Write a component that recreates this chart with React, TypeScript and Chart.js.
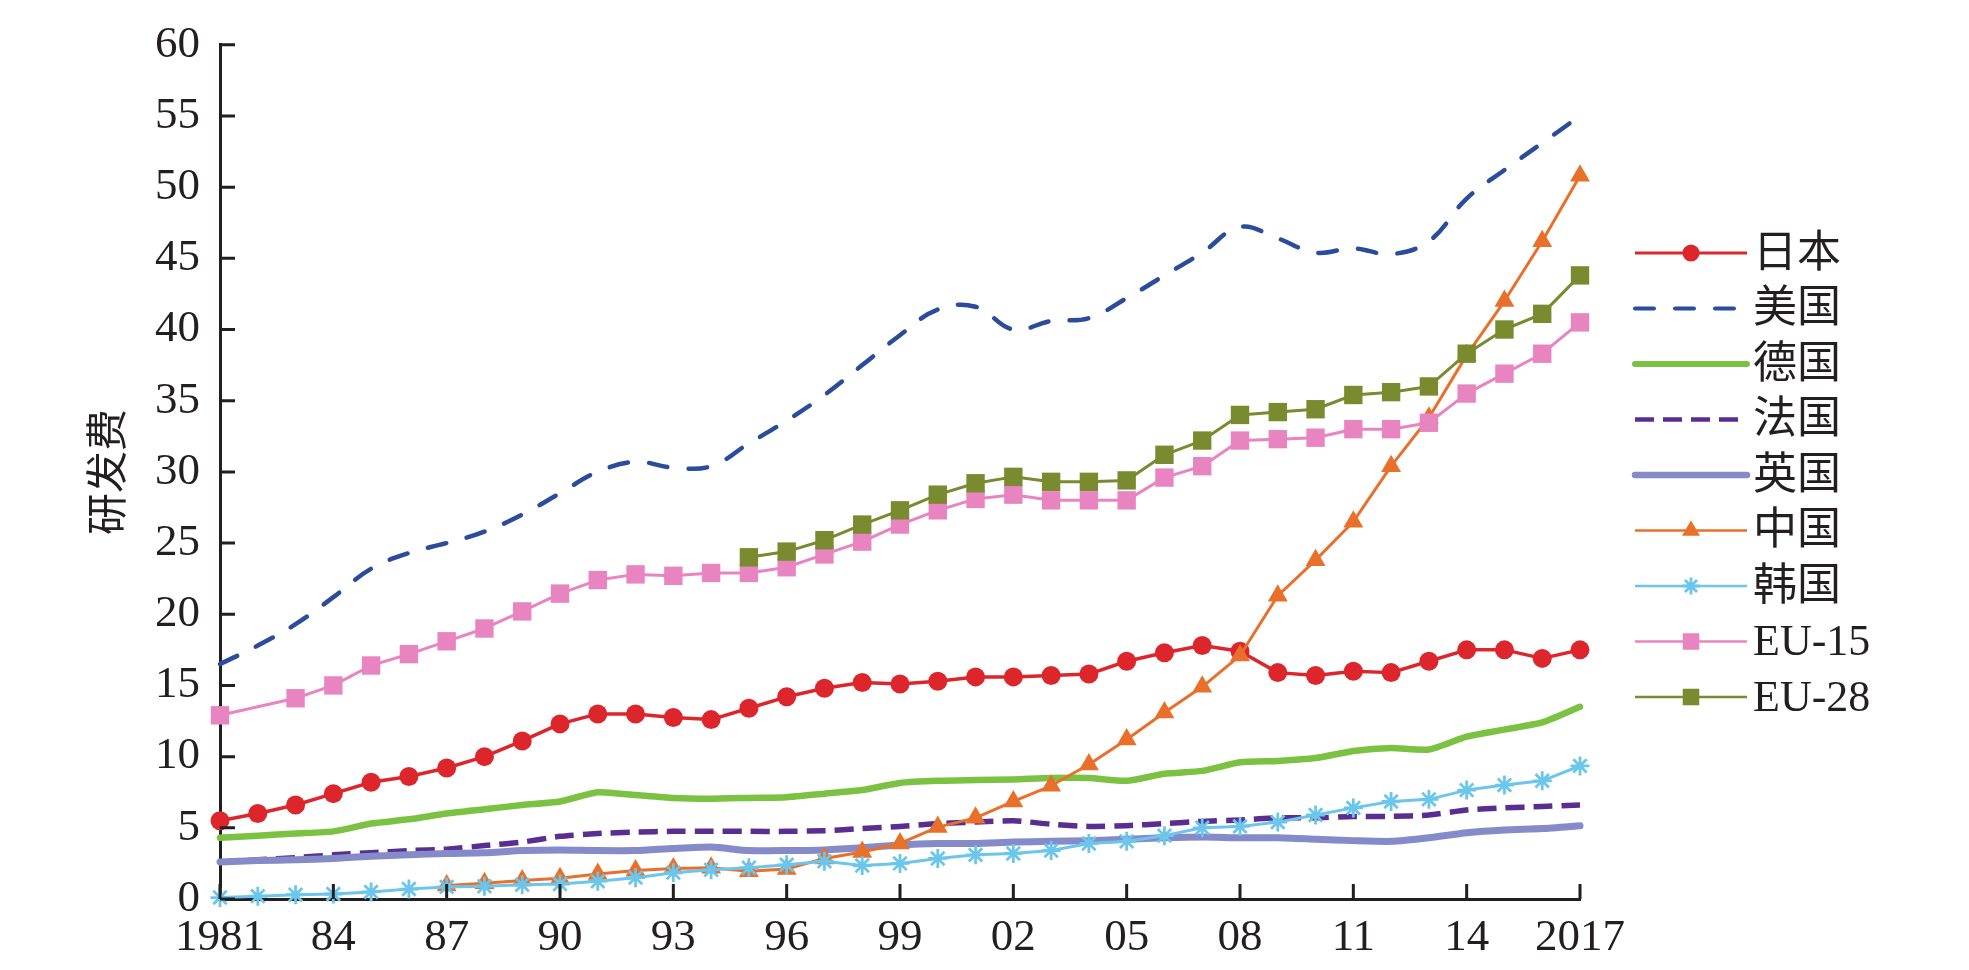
import { useEffect, useRef } from "react"
import { Chart, registerables } from "chart.js"

Chart.register(...registerables)

// 年份（1981–2017）
const years = [
    1981, 1982, 1983, 1984, 1985, 1986, 1987, 1988, 1989, 1990,
    1991, 1992, 1993, 1994, 1995, 1996, 1997, 1998, 1999, 2000,
    2001, 2002, 2003, 2004, 2005, 2006, 2007, 2008, 2009, 2010,
    2011, 2012, 2013, 2014, 2015, 2016, 2017,
]

const yTicks = [0, 5, 10, 15, 20, 25, 30, 35, 40, 45, 50, 55, 60]

const japan = [
    5.5, 6.0, 6.6, 7.4, 8.2, 8.6, 9.2, 10.0, 11.1, 12.3,
    13.0, 13.0, 12.75, 12.6, 13.4, 14.2, 14.8, 15.2, 15.1, 15.3,
    15.6, 15.6, 15.7, 15.8, 16.7, 17.3, 17.8, 17.4, 15.9, 15.7,
    16.0, 15.9, 16.7, 17.5, 17.5, 16.9, 17.5,
]
const usa = [
    16.5, 17.8, 19.3, 21.2, 23.2, 24.3, 25.0, 25.8, 27.0, 28.5,
    30.0, 30.7, 30.3, 30.4, 32.0, 33.6, 35.4, 37.5, 39.6, 41.4,
    41.6, 40.0, 40.6, 40.8, 42.2, 43.8, 45.4, 47.2, 46.4, 45.4,
    45.7, 45.3, 46.2, 49.2, 51.2, 53.1, 55.0,
]
const germany = [
    4.3, 4.45, 4.6, 4.75, 5.3, 5.6, 6.0, 6.3, 6.6, 6.85,
    7.5, 7.3, 7.1, 7.05, 7.1, 7.15, 7.4, 7.65, 8.15, 8.3,
    8.35, 8.4, 8.5, 8.5, 8.3, 8.8, 9.0, 9.6, 9.7, 9.9,
    10.4, 10.6, 10.5, 11.4, 11.9, 12.4, 13.5,
]
const france = [
    2.6, 2.75, 2.9, 3.1, 3.25, 3.4, 3.5, 3.75, 4.0, 4.4,
    4.6, 4.7, 4.75, 4.75, 4.75, 4.75, 4.8, 4.95, 5.1, 5.3,
    5.4, 5.5, 5.25, 5.1, 5.15, 5.3, 5.45, 5.55, 5.7, 5.7,
    5.8, 5.8, 5.9, 6.25, 6.4, 6.5, 6.6,
]
const uk = [
    2.6, 2.7, 2.75, 2.85, 3.0, 3.1, 3.2, 3.25, 3.4, 3.45,
    3.4, 3.4, 3.55, 3.65, 3.4, 3.4, 3.45, 3.6, 3.8, 3.9,
    3.9, 4.0, 4.05, 4.1, 4.2, 4.3, 4.35, 4.3, 4.3, 4.2,
    4.1, 4.05, 4.3, 4.65, 4.85, 4.95, 5.15,
]
const china = [
    null, null, null, null, null, null, 0.95, 1.1, 1.3, 1.45,
    1.75, 2.0, 2.15, 2.2, 1.95, 2.1, 2.85, 3.3, 3.9, 5.05,
    5.7, 6.85, 7.95, 9.45, 11.2, 13.1, 14.9, 17.1, 21.3, 23.8,
    26.5, 30.4, 33.8, 38.2, 42.0, 46.2, 50.8,
]
const korea = [
    0.1, 0.2, 0.3, 0.35, 0.5, 0.7, 0.85, 0.9, 1.0, 1.05,
    1.25, 1.5, 1.85, 2.05, 2.2, 2.4, 2.65, 2.35, 2.5, 2.85,
    3.1, 3.2, 3.4, 3.9, 4.05, 4.45, 5.0, 5.1, 5.4, 5.9,
    6.4, 6.85, 7.0, 7.65, 8.0, 8.3, 9.35,
]
const eu15 = [
    12.9, null, 14.1, 15.0, 16.4, 17.2, 18.1, 19.0, 20.2, 21.45,
    22.4, 22.8, 22.7, 22.9, 22.9, 23.3, 24.2, 25.1, 26.3, 27.3,
    28.1, 28.4, 28.0, 28.0, 28.0, 29.6, 30.4, 32.2, 32.3, 32.4,
    33.0, 33.0, 33.45, 35.5, 36.9, 38.3, 40.5,
]
const eu28 = [
    null, null, null, null, null, null, null, null, null, null,
    null, null, null, null, 24.0, 24.4, 25.2, 26.3, 27.3, 28.4,
    29.2, 29.65, 29.3, 29.3, 29.4, 31.2, 32.2, 34.0, 34.2, 34.4,
    35.4, 35.6, 36.0, 38.3, 40.0, 41.1, 43.8,
]

const FONT = '"Liberation Serif", "Times New Roman", "Noto Sans CJK SC", serif'
const INK = "#231f20"

type Marker = "circle" | "triangle" | "rect" | "star" | null

interface Series {
    label: string
    values: (number | null)[]
    color: string
    width: number
    legendWidth: number
    dash: number[]
    cap: CanvasLineCap
    marker: Marker
    radius: number
    tension: number
}

const series: Series[] = [
    { label: "日本", values: japan, color: "#dc262c", width: 3.5, legendWidth: 3, dash: [], cap: "butt", marker: "circle", radius: 9.5, tension: 0 },
    { label: "美国", values: usa, color: "#2b4c9c", width: 4.5, legendWidth: 4, dash: [19, 21], cap: "round", marker: null, radius: 0, tension: 0.4 },
    { label: "德国", values: germany, color: "#7cc242", width: 6.5, legendWidth: 6, dash: [], cap: "round", marker: null, radius: 0, tension: 0.2 },
    { label: "法国", values: france, color: "#5a2e91", width: 5.5, legendWidth: 4.5, dash: [19, 9], cap: "butt", marker: null, radius: 0, tension: 0.2 },
    { label: "英国", values: uk, color: "#858ac9", width: 7, legendWidth: 6.5, dash: [], cap: "round", marker: null, radius: 0, tension: 0.2 },
    { label: "中国", values: china, color: "#e8702a", width: 3, legendWidth: 2.7, dash: [], cap: "butt", marker: "triangle", radius: 11.5, tension: 0 },
    { label: "韩国", values: korea, color: "#6cc6ec", width: 3, legendWidth: 2.7, dash: [], cap: "butt", marker: "star", radius: 9.5, tension: 0 },
    { label: "EU-15", values: eu15, color: "#e884c0", width: 3, legendWidth: 2.7, dash: [], cap: "butt", marker: "rect", radius: 13, tension: 0 },
    { label: "EU-28", values: eu28, color: "#7a8a2e", width: 3, legendWidth: 2.7, dash: [], cap: "butt", marker: "rect", radius: 13, tension: 0 },
]

function drawMarker(ctx: CanvasRenderingContext2D, m: Marker, x: number, y: number, r: number, color: string) {
    ctx.save()
    ctx.fillStyle = color
    ctx.strokeStyle = color
    ctx.setLineDash([])
    if (m === "circle") {
        ctx.beginPath()
        ctx.arc(x, y, r, 0, Math.PI * 2)
        ctx.fill()
    } else if (m === "triangle") {
        ctx.beginPath()
        for (let k = 0; k < 3; k++) {
            const a = -Math.PI / 2 + k * (2 * Math.PI / 3)
            const px = x + Math.cos(a) * r
            const py = y + Math.sin(a) * r
            if (k === 0) ctx.moveTo(px, py)
            else ctx.lineTo(px, py)
        }
        ctx.closePath()
        ctx.fill()
    } else if (m === "rect") {
        const s = r * Math.SQRT1_2
        ctx.fillRect(x - s, y - s, 2 * s, 2 * s)
    } else if (m === "star") {
        ctx.lineWidth = 2.8
        ctx.beginPath()
        for (let k = 0; k < 4; k++) {
            const a = k * Math.PI / 4
            ctx.moveTo(x - Math.cos(a) * r, y - Math.sin(a) * r)
            ctx.lineTo(x + Math.cos(a) * r, y + Math.sin(a) * r)
        }
        ctx.stroke()
    }
    ctx.restore()
}

// 内侧刻度线、右侧图例
const decorPlugin = {
    id: "decor",
    afterDraw(chart: Chart) {
        const { ctx, chartArea, scales } = chart
        const xs = scales.x
        const ys = scales.y
        ctx.save()
        ctx.strokeStyle = INK
        ctx.lineWidth = 3
        ctx.beginPath()
        yTicks.forEach(v => {
            const py = ys.getPixelForValue(v)
            ctx.moveTo(chartArea.left, py)
            ctx.lineTo(chartArea.left + 15, py)
        })
        years.forEach((yr, i) => {
            if ((yr - 1981) % 3 !== 0) return
            const px = xs.getPixelForValue(i)
            ctx.moveTo(px, chartArea.bottom)
            ctx.lineTo(px, chartArea.bottom - 15)
        })
        ctx.stroke()

        const x0 = chartArea.right + 55
        const x1 = x0 + 112
        series.forEach((s, i) => {
            const y = 253 + i * 55.5
            ctx.save()
            ctx.strokeStyle = s.color
            ctx.lineWidth = s.legendWidth
            ctx.lineCap = s.cap
            ctx.setLineDash(s.dash)
            ctx.beginPath()
            ctx.moveTo(x0, y)
            ctx.lineTo(x1, y)
            ctx.stroke()
            ctx.restore()
            if (s.marker) drawMarker(ctx, s.marker, (x0 + x1) / 2, y, s.radius * 0.9, s.color)
            ctx.fillStyle = INK
            ctx.font = `44px ${FONT}`
            ctx.textAlign = "left"
            ctx.textBaseline = "middle"
            ctx.fillText(s.label, x1 + 6, y + 2)
        })
        ctx.restore()
    },
}

export default function App() {
    const canvasRef = useRef<HTMLCanvasElement>(null)
    const chartRef = useRef<Chart>()

    useEffect(() => {
        document.body.style.margin = "0"
        if (!canvasRef.current) return
        if (chartRef.current) chartRef.current.destroy()

        const datasets = series.map((s, i) => ({
            label: s.label,
            data: s.values,
            borderColor: s.color,
            backgroundColor: s.color,
            borderWidth: s.width,
            borderDash: s.dash,
            borderCapStyle: s.cap,
            borderJoinStyle: "round" as CanvasLineJoin,
            tension: s.tension,
            pointStyle: s.marker || "circle",
            pointRadius: s.marker ? s.radius : 0,
            pointHoverRadius: s.marker ? s.radius : 0,
            pointBackgroundColor: s.color,
            pointBorderColor: s.color,
            pointBorderWidth: s.marker === "star" ? 2.8 : 0,
            spanGaps: true,
            clip: false as const,
            order: series.length - i,
        }))

        chartRef.current = new Chart(canvasRef.current, {
            type: "line",
            data: { labels: years.map(String), datasets },
            options: {
                animation: false,
                responsive: true,
                maintainAspectRatio: false,
                layout: { padding: { left: 0, right: 389, top: 24, bottom: 0 } },
                plugins: {
                    legend: { display: false },
                    tooltip: { enabled: false },
                },
                scales: {
                    x: {
                        type: "category",
                        offset: false,
                        grid: { display: false, drawTicks: false },
                        border: { display: true, color: INK, width: 3 },
                        afterFit: (scale: any) => { scale.height = 71 },
                        ticks: {
                            autoSkip: false,
                            maxRotation: 0,
                            padding: 14,
                            color: INK,
                            font: { family: FONT, size: 45, lineHeight: 1.1 },
                            callback: (_v: any, idx: number) => {
                                const yr = years[idx]
                                if ((yr - 1981) % 3 !== 0) return ""
                                return yr === 1981 || yr === 2017 ? String(yr) : String(yr).slice(2)
                            },
                        },
                    },
                    y: {
                        min: 0,
                        max: 60,
                        grid: { display: false, drawTicks: false },
                        border: { display: true, color: INK, width: 3 },
                        afterFit: (scale: any) => { scale.width = 220 },
                        ticks: {
                            stepSize: 5,
                            padding: 20,
                            color: INK,
                            font: { family: FONT, size: 45, lineHeight: 1.1 },
                        },
                        title: {
                            display: true,
                            text: "研发费",
                            color: INK,
                            font: { family: FONT, size: 42, lineHeight: 1.2 },
                            padding: { top: 86, bottom: 0 },
                        },
                    },
                },
            },
            plugins: [decorPlugin],
        })

        return () => {
            if (chartRef.current) {
                chartRef.current.destroy()
                chartRef.current = undefined
            }
        }
    }, [])

    return (
        <div style={{ width: 1969, height: 970, position: "relative", background: "#fff" }}>
            <canvas ref={canvasRef} />
        </div>
    )
}
